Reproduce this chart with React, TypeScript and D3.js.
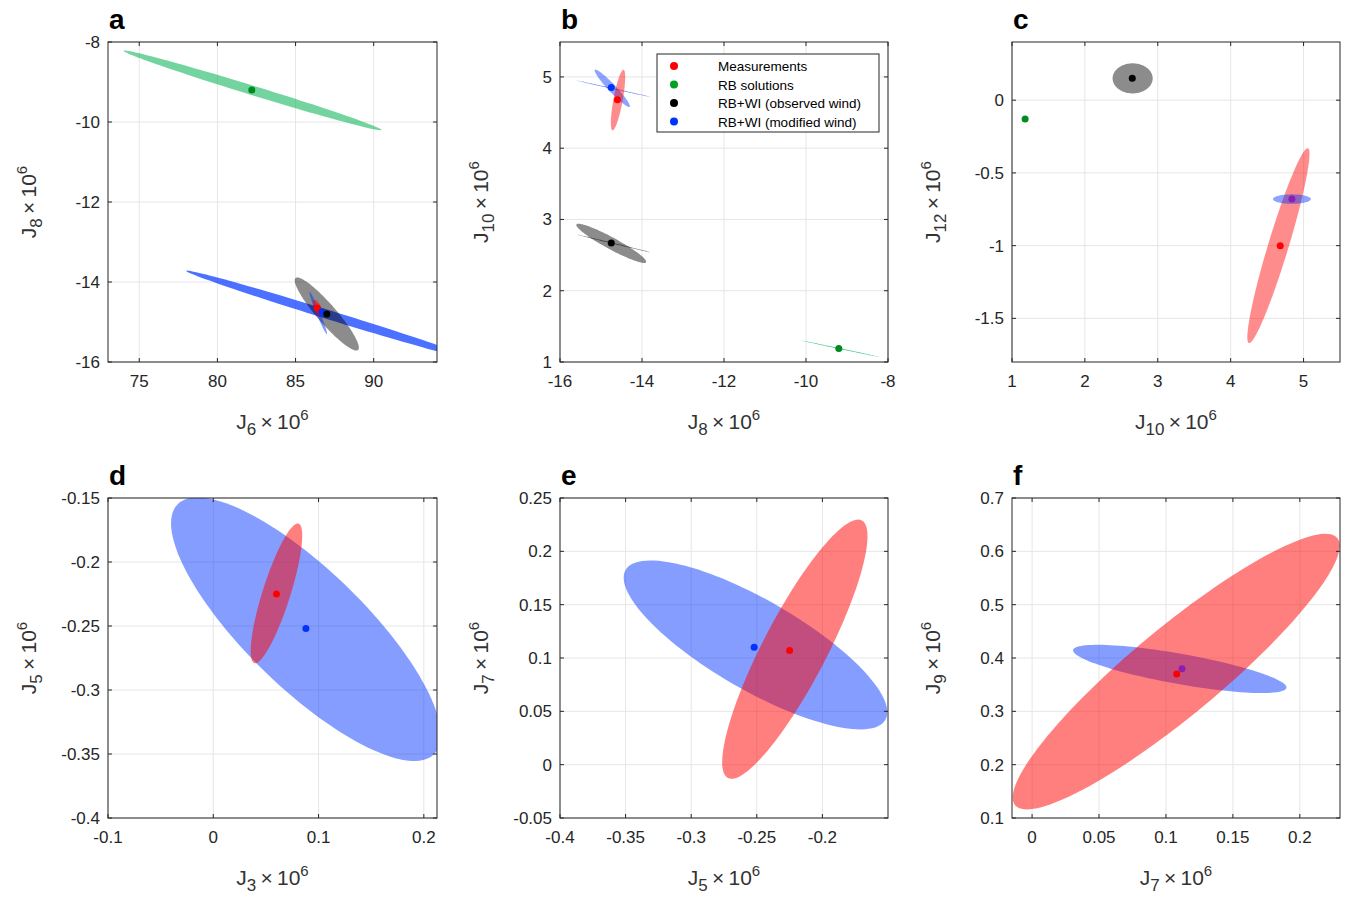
import React from "react";
import * as d3 from "d3";

type E = { p1: [number, number]; p2: [number, number]; r: number; c: string; o: number };
type D = { x: number; y: number; c: string };

const RED = "#ff0000", BLUE = "#0033ff", GREEN = "#00b050", GRAY = "#000000", PURPLE = "#8a1fb0";

const panelA_x = [73, 94.05], panelA_y = [-16, -8];
const panelA_xt = [75, 80, 85, 90], panelA_yt = [-16, -14, -12, -10, -8];
const panelA_E: E[] = [
  { p1: [74, -8.22], p2: [90.5, -10.2], r: 0.035, c: GREEN, o: 0.55 },
  { p1: [78, -13.72], p2: [96.5, -15.95], r: 0.03, c: BLUE, o: 0.7 },
  { p1: [85.0, -13.9], p2: [89.0, -15.7], r: 0.2, c: GRAY, o: 0.45 },
  { p1: [85.9, -14.25], p2: [87.0, -15.3], r: 0.08, c: BLUE, o: 0.5 },
  { p1: [86.2, -14.45], p2: [86.6, -14.85], r: 0.4, c: RED, o: 0.5 },
];
const panelA_D: D[] = [
  { x: 82.2, y: -9.2, c: "#008a20" },
  { x: 86.4, y: -14.65, c: RED },
  { x: 86.7, y: -14.75, c: BLUE },
  { x: 87.0, y: -14.8, c: "#000" },
];

const panelB_x = [-16, -8], panelB_y = [1, 5.49];
const panelB_xt = [-16, -14, -12, -10, -8], panelB_yt = [1, 2, 3, 4, 5];
const panelB_E: E[] = [
  { p1: [-15.15, 5.1], p2: [-14.3, 4.58], r: 0.15, c: BLUE, o: 0.45 },
  { p1: [-15.6, 4.95], p2: [-13.8, 4.72], r: 0.01, c: BLUE, o: 0.6 },
  { p1: [-14.72, 4.25], p2: [-14.45, 5.1], r: 0.15, c: RED, o: 0.45 },
  { p1: [-15.6, 2.93], p2: [-13.9, 2.4], r: 0.15, c: GRAY, o: 0.45 },
  { p1: [-15.6, 2.79], p2: [-13.8, 2.54], r: 0.01, c: GRAY, o: 0.6 },
  { p1: [-10.1, 1.3], p2: [-8.2, 1.07], r: 0.01, c: GREEN, o: 0.7 },
];
const panelB_D: D[] = [
  { x: -14.6, y: 4.68, c: RED },
  { x: -14.75, y: 4.85, c: BLUE },
  { x: -14.75, y: 2.67, c: "#000" },
  { x: -9.2, y: 1.19, c: "#008a20" },
];

const panelC_x = [1, 5.5], panelC_y = [-1.8, 0.4];
const panelC_xt = [1, 2, 3, 4, 5], panelC_yt = [-1.5, -1, -0.5, 0];
const panelC_E: E[] = [
  { p1: [2.38, 0.15], p2: [2.93, 0.15], r: 0.75, c: GRAY, o: 0.45 },
  { p1: [4.25, -1.67], p2: [5.06, -0.33], r: 0.1, c: RED, o: 0.45 },
  { p1: [4.58, -0.68], p2: [5.1, -0.68], r: 0.25, c: BLUE, o: 0.45 },
];
const panelC_D: D[] = [
  { x: 2.65, y: 0.15, c: "#000" },
  { x: 1.18, y: -0.13, c: "#008a20" },
  { x: 4.68, y: -1.0, c: RED },
  { x: 4.84, y: -0.68, c: PURPLE },
];

const panelD_x = [-0.1, 0.2125], panelD_y = [-0.4, -0.15];
const panelD_xt = [-0.1, 0, 0.1, 0.2], panelD_yt = [-0.4, -0.35, -0.3, -0.25, -0.2, -0.15];
const panelD_E: E[] = [
  { p1: [-0.034, -0.155], p2: [0.21, -0.35], r: 0.33, c: BLUE, o: 0.48 },
  { p1: [0.039, -0.279], p2: [0.081, -0.17], r: 0.19, c: RED, o: 0.5 },
];
const panelD_D: D[] = [
  { x: 0.06, y: -0.225, c: RED },
  { x: 0.088, y: -0.252, c: BLUE },
];

const panelE_x = [-0.4, -0.15], panelE_y = [-0.05, 0.25];
const panelE_xt = [-0.4, -0.35, -0.3, -0.25, -0.2], panelE_yt = [-0.05, 0, 0.05, 0.1, 0.15, 0.2, 0.25];
const panelE_E: E[] = [
  { p1: [-0.35, 0.1825], p2: [-0.152, 0.042], r: 0.3, c: BLUE, o: 0.48 },
  { p1: [-0.272, -0.0125], p2: [-0.17, 0.229], r: 0.22, c: RED, o: 0.5 },
];
const panelE_D: D[] = [
  { x: -0.252, y: 0.11, c: BLUE },
  { x: -0.225, y: 0.107, c: RED },
];

const panelF_x = [-0.015, 0.23], panelF_y = [0.1, 0.7];
const panelF_xt = [0, 0.05, 0.1, 0.15, 0.2], panelF_yt = [0.1, 0.2, 0.3, 0.4, 0.5, 0.6, 0.7];
const panelF_E: E[] = [
  { p1: [0.0306, 0.415], p2: [0.19, 0.344], r: 0.14, c: BLUE, o: 0.48 },
  { p1: [-0.0127, 0.124], p2: [0.228, 0.625], r: 0.21, c: RED, o: 0.5 },
];
const panelF_D: D[] = [
  { x: 0.108, y: 0.37, c: RED },
  { x: 0.112, y: 0.38, c: PURPLE },
];

const legendItems = [
  { label: "Measurements", c: RED },
  { label: "RB solutions", c: "#00a020" },
  { label: "RB+WI (observed wind)", c: "#000" },
  { label: "RB+WI (modified wind)", c: BLUE },
];

const FONT = "Liberation Sans, Arial, Helvetica, sans-serif";

function Label({ x, y, sub, rotate }: { x: number; y: number; sub: string; rotate?: boolean }) {
  return (
    <text x={x} y={y} fontSize={21} fill="#333" textAnchor="middle" fontFamily={FONT}
      transform={rotate ? `rotate(-90 ${x} ${y})` : undefined}>
      J<tspan fontSize={17} dy={6}>{sub}</tspan>
      <tspan dy={-6}>{"\u2009\u00d7\u200910"}</tspan>
      <tspan fontSize={15} dy={-9}>6</tspan>
    </text>
  );
}

function Panel(props: {
  id: string; letter: string; left: number; top: number; w: number; h: number;
  xd: number[]; yd: number[]; xt: number[]; yt: number[]; E: E[]; D: D[];
  xs: string; ys: string; legend?: boolean;
}) {
  const { id, letter, left, top, w, h, xd, yd, xt, yt, E, D, xs, ys } = props;
  const x = d3.scaleLinear().domain(xd).range([left, left + w]);
  const y = d3.scaleLinear().domain(yd).range([top + h, top]);
  const fmt = (v: number) => String(+v.toFixed(3));
  const ell = (e: E) => {
    const P1 = [x(e.p1[0]), y(e.p1[1])], P2 = [x(e.p2[0]), y(e.p2[1])];
    const c = [(P1[0] + P2[0]) / 2, (P1[1] + P2[1]) / 2];
    const a = [(P2[0] - P1[0]) / 2, (P2[1] - P1[1]) / 2];
    const b = [-a[1] * e.r, a[0] * e.r];
    const pts: [number, number][] = d3.range(0, 121).map((i) => {
      const t = (i / 120) * 2 * Math.PI;
      return [c[0] + Math.cos(t) * a[0] + Math.sin(t) * b[0], c[1] + Math.cos(t) * a[1] + Math.sin(t) * b[1]];
    });
    return d3.line()(pts) + "Z";
  };
  return (
    <g>
      <defs>
        <clipPath id={id}><rect x={left} y={top} width={w} height={h} /></clipPath>
      </defs>
      <rect x={left} y={top} width={w} height={h} fill="#fff" />
      {xt.map((v) => <line key={"gx" + v} x1={x(v)} x2={x(v)} y1={top} y2={top + h} stroke="#e6e6e6" />)}
      {yt.map((v) => <line key={"gy" + v} y1={y(v)} y2={y(v)} x1={left} x2={left + w} stroke="#e6e6e6" />)}
      <g clipPath={`url(#${id})`}>
        {E.map((e, i) => <path key={i} d={ell(e)} fill={e.c} fillOpacity={e.o} stroke="none" />)}
        {D.map((d, i) => <circle key={i} cx={x(d.x)} cy={y(d.y)} r={3.5} fill={d.c} />)}
      </g>
      <rect x={left} y={top} width={w} height={h} fill="none" stroke="#262626" strokeWidth={1} />
      {xt.map((v) => (
        <g key={"tx" + v}>
          <line x1={x(v)} x2={x(v)} y1={top + h} y2={top + h - 4} stroke="#262626" />
          <line x1={x(v)} x2={x(v)} y1={top} y2={top + 4} stroke="#262626" />
          <text x={x(v)} y={top + h + 25} fontSize={17} fill="#262626" textAnchor="middle" fontFamily={FONT}>{fmt(v)}</text>
        </g>
      ))}
      {yt.map((v) => (
        <g key={"ty" + v}>
          <line x1={left} x2={left + 4} y1={y(v)} y2={y(v)} stroke="#262626" />
          <line x1={left + w} x2={left + w - 4} y1={y(v)} y2={y(v)} stroke="#262626" />
          <text x={left - 8} y={y(v) + 6} fontSize={17} fill="#262626" textAnchor="end" fontFamily={FONT}>{fmt(v)}</text>
        </g>
      ))}
      <Label x={left + w / 2} y={top + h + 67} sub={xs} />
      <Label x={left - 72} y={top + h / 2} sub={ys} rotate />
      <text x={left + 1} y={top - 13} fontSize={28} fontWeight="bold" fontFamily={FONT} fill="#000">{letter}</text>
      {props.legend && (
        <g>
          <rect x={657} y={54} width={222} height={78} fill="#fff" stroke="#262626" />
          {legendItems.map((l, i) => (
            <g key={l.label}>
              <circle cx={674} cy={66 + i * 18.5} r={4} fill={l.c} />
              <text x={718} y={71 + i * 18.5} fontSize={13.5} fontFamily={FONT} fill="#000">{l.label}</text>
            </g>
          ))}
        </g>
      )}
    </g>
  );
}

export default function App() {
  return (
    <svg width={1348} height={901} style={{ position: "absolute", left: 0, top: 0, background: "#fff" }}>
      <rect width={1348} height={901} fill="#fff" />
      <Panel id="ca" letter="a" left={108} top={42} w={329} h={320} xd={panelA_x} yd={panelA_y} xt={panelA_xt} yt={panelA_yt} E={panelA_E} D={panelA_D} xs="6" ys="8" />
      <Panel id="cb" letter="b" left={560} top={42} w={328} h={320} xd={panelB_x} yd={panelB_y} xt={panelB_xt} yt={panelB_yt} E={panelB_E} D={panelB_D} xs="8" ys="10" legend />
      <Panel id="cc" letter="c" left={1012} top={42} w={328} h={320} xd={panelC_x} yd={panelC_y} xt={panelC_xt} yt={panelC_yt} E={panelC_E} D={panelC_D} xs="10" ys="12" />
      <Panel id="cd" letter="d" left={108} top={498} w={329} h={320} xd={panelD_x} yd={panelD_y} xt={panelD_xt} yt={panelD_yt} E={panelD_E} D={panelD_D} xs="3" ys="5" />
      <Panel id="ce" letter="e" left={560} top={498} w={328} h={320} xd={panelE_x} yd={panelE_y} xt={panelE_xt} yt={panelE_yt} E={panelE_E} D={panelE_D} xs="5" ys="7" />
      <Panel id="cf" letter="f" left={1012} top={498} w={328} h={320} xd={panelF_x} yd={panelF_y} xt={panelF_xt} yt={panelF_yt} E={panelF_E} D={panelF_D} xs="7" ys="9" />
    </svg>
  );
}
